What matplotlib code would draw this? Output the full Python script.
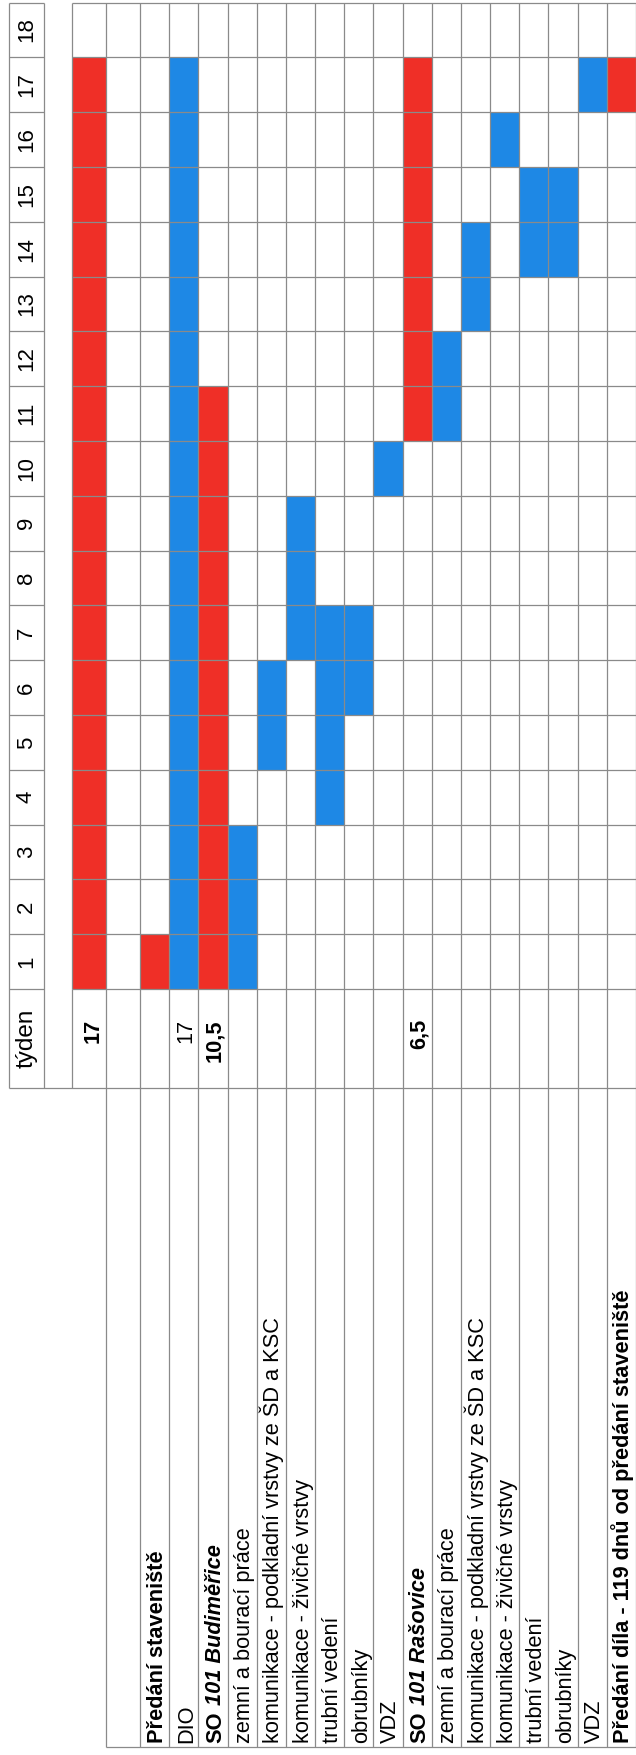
import matplotlib
matplotlib.use("Agg")
import matplotlib.pyplot as plt

plt.rcParams["font.family"] = ["Liberation Sans", "DejaVu Sans"]

# ---- data ---------------------------------------------------------------
weeks = list(range(1, 19))
task_labels = [
    "", "", "Předání staveniště", "DIO", "SO 101 Budiměřice",
    "zemní a bourací práce", "komunikace - podkladní vrstvy ze ŠD a KSC",
    "komunikace - živičné vrstvy", "trubní vedení", "obrubníky", "VDZ",
    "SO 101 Rašovice", "zemní a bourací práce",
    "komunikace - podkladní vrstvy ze ŠD a KSC", "komunikace - živičné vrstvy",
    "trubní vedení", "obrubníky", "VDZ",
    "Předání díla - 119 dnů od předání staveniště",
]
durations = ["17", "", "", "17", "10,5", "", "", "", "", "", "",
             "6,5", "", "", "", "", "", "", ""]
start_week = [1, 0, 1, 1, 1, 1, 5, 7, 4, 6, 10, 11, 11, 13, 16, 14, 14, 17, 17]
end_week = [17, 0, 1, 17, 11, 3, 6, 9, 7, 7, 10, 17, 12, 14, 16, 15, 15, 17, 17]
summary_rows = [0, 2, 4, 11, 18]      # red bars
bold_labels = [2, 18]
mixed_labels = [4, 11]                # "SO" bold + rest bold italic
bold_durations = [0, 4, 11]

# ---- layout (pixels of the 636 x 1755 page) ------------------------------
W, H = 636, 1755
WPX = 54.8            # one week in pixels
BASE = 989            # pixel row of week 0 line
edges = [72, 106] + [140 + i * (W - 140) / 17 for i in range(18)]
RED, BLUE, LINE = "#EF2F27", "#1E88E5", "#8a8a8a"
FS = 15.7

fig = plt.figure(figsize=(W / 100, H / 100), dpi=100)
ax = fig.add_axes([0, 0, 1, 1])
ax.set_xlim(0, W)
ax.set_ylim(-(H - BASE) / WPX, BASE / WPX)
ax.axis("off")

def py(p):
    # pixel row -> axis unit
    return (BASE - p) / WPX

y_dur = py(1088)
y_bot = py(1747)

# bars
for i in range(len(task_labels)):
    if start_week[i] == 0:
        continue
    ax.bar(edges[i], end_week[i] - start_week[i] + 1, bottom=start_week[i] - 1,
           width=edges[i + 1] - edges[i], align="edge", linewidth=0,
           color=RED if i in summary_rows else BLUE, zorder=1)

# grid
kw = dict(color=LINE, linewidth=0.9, zorder=2)
ax.hlines(range(0, 19), edges[0], W, **kw)
ax.hlines(range(0, 19), 9, 44, **kw)
ax.vlines(edges, 0, 18, **kw)
ax.vlines([9, 44], y_dur, 18, **kw)
ax.vlines(edges, y_dur, 0, **kw)
ax.vlines(edges[1:], y_bot, y_dur, **kw)
ax.hlines(y_dur, 9, W, **kw)
ax.hlines(y_bot, edges[1], W, **kw)

# week numbers
for w in weeks:
    ax.text(26.5, w - 0.5, str(w), rotation=90, rotation_mode="anchor",
            ha="center", va="center", fontsize=16, zorder=3)
ax.text(27, y_dur / 2, "týden", rotation=90, rotation_mode="anchor",
        ha="center", va="center", fontsize=17.5, zorder=3)

# durations
for i, d in enumerate(durations):
    if d:
        ax.text(edges[i + 1] - 2, py(1019), d, rotation=90, rotation_mode="anchor",
                ha="right", va="bottom", fontsize=FS, zorder=3,
                fontweight="bold" if i in bold_durations else "normal")

# task labels
renderer = fig.canvas.get_renderer()
y_lab = py(1743)
for i, lab in enumerate(task_labels):
    if not lab:
        continue
    x = edges[i + 1] - 1.5
    if i in mixed_labels:
        head, tail = "SO", lab[len("SO "):]
        t = ax.text(x, y_lab, head, rotation=90, rotation_mode="anchor",
                    ha="left", va="bottom", fontsize=FS, fontweight="bold", zorder=3)
        bb = t.get_window_extent(renderer)
        top = ax.transData.inverted().transform((0, bb.y1 + 0.278 * FS * 100 / 72))[1]
        ax.text(x, top, tail, rotation=90, rotation_mode="anchor",
                ha="left", va="bottom", fontsize=FS, fontweight="bold",
                fontstyle="italic", zorder=3)
    else:
        ax.text(x, y_lab, lab, rotation=90, rotation_mode="anchor",
                ha="left", va="bottom", fontsize=FS, zorder=3,
                fontweight="bold" if i in bold_labels else "normal")

fig.savefig("out.png", dpi=100)
